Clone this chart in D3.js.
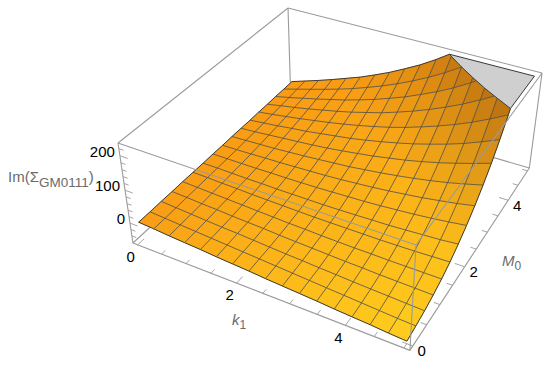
<!DOCTYPE html>
<html>
<head>
<meta charset="utf-8">
<script src="https://cdn.jsdelivr.net/npm/d3@7"></script>
<style>
body { margin: 0; background: #fff; }
text { font-family: "Liberation Sans", Arial, sans-serif; }
</style>
</head>
<body>
<svg width="550" height="366"></svg>
<script>
var kGrid = [0, 0.3125, 0.625, 0.9375, 1.25, 1.5625, 1.875, 2.1875, 2.5, 2.8125, 3.125, 3.4375, 3.75, 4.0625, 4.375, 4.6875, 5];
var mGrid = [0, 0.3125, 0.625, 0.9375, 1.25, 1.5625, 1.875, 2.1875, 2.5, 2.8125, 3.125, 3.4375, 3.75, 4.0625, 4.375, 4.6875, 5];
// Im(Sigma), one row per M0, one column per k1
var zM00 = [-2, -5, -9, -12, -15, -19, -22, -25, -29, -32, -35, -38, -42, -45, -48, -52, -55],
    zM01 = [-2, -5, -8, -11, -14, -17, -20, -23, -26, -29, -32, -35, -38, -41, -44, -47, -49],
    zM02 = [-1, -4, -7, -10, -13, -15, -18, -21, -24, -26, -29, -31, -34, -36, -38, -40, -42],
    zM03 = [-1, -3, -6, -8, -11, -13, -15, -18, -20, -22, -24, -26, -27, -29, -30, -31, -32],
    zM04 = [0, -2, -4, -6, -8, -10, -12, -14, -15, -17, -18, -19, -19, -20, -20, -20, -20],
    zM05 = [0, -1, -3, -4, -6, -7, -8, -9, -10, -10, -10, -10, -10, -9, -8, -6, -4],
    zM06 = [0, 0, -1, -2, -2, -3, -3, -3, -3, -2, -1, 1, 2, 5, 8, 11, 16],
    zM07 = [1, 1, 1, 1, 2, 2, 3, 4, 6, 8, 10, 13, 17, 21, 26, 32, 39],
    zM08 = [1, 2, 3, 5, 6, 8, 10, 12, 15, 19, 23, 28, 34, 40, 48, 56, 66],
    zM09 = [2, 4, 6, 8, 11, 14, 18, 22, 26, 32, 38, 45, 53, 62, 72, 84, 97],
    zM10 = [2, 5, 9, 13, 17, 21, 26, 32, 39, 46, 55, 64, 75, 87, 101, 116, 132],
    zM11 = [2, 7, 12, 18, 23, 30, 37, 44, 53, 63, 74, 86, 100, 115, 132, 152, 173],
    zM12 = [3, 9, 16, 23, 31, 39, 48, 58, 69, 81, 95, 111, 128, 147, 168, 192, 218],
    zM13 = [3, 12, 20, 29, 39, 49, 60, 73, 86, 102, 119, 138, 159, 182, 208, 236, 268],
    zM14 = [4, 14, 25, 36, 48, 60, 74, 89, 106, 124, 145, 167, 192, 220, 251, 285, 323],
    zM15 = [4, 17, 30, 43, 57, 72, 89, 107, 127, 149, 173, 200, 230, 263, 299, 339, 383],
    zM16 = [5, 20, 35, 51, 68, 85, 105, 126, 150, 175, 204, 236, 270, 309, 351, 398, 449];
var zRows = [zM00, zM01, zM02, zM03, zM04, zM05, zM06, zM07, zM08, zM09, zM10, zM11, zM12, zM13, zM14, zM15, zM16];

var kTicks = [0, 0.5, 1, 1.5, 2, 2.5, 3, 3.5, 4, 4.5, 5],
    kLabels = [0, 2, 4],
    zTicks = [-40, -20, 0, 20, 40, 60, 80, 100, 120, 140, 160, 180, 200, 220],
    zLabels = [0, 100, 200];
var zMin = -57, zMax = 230;

var svg = d3.select("svg");

// box coordinates 0..1, with 2% padding around the ranges
var u = d3.scaleLinear().domain([-0.1, 5.1]).range([0, 1]),
    v = d3.scaleLinear().domain([-0.1, 5.1]).range([0, 1]),
    t = d3.scaleLinear().domain([zMin, zMax]).range([0.9808, 0.0192]);

// perspective camera, c runs from the lid of the box (0) to the floor (1)
function camera(a, b, c) {
  var d = 1 - 0.126 * a + 0.2357 * b + 0.0733 * c;
  return [(118 + 245.6 * a + 237.9 * b + 24.7 * c) / d,
          (143 + 71.1 * a - 133.1 * b + 117.8 * c) / d];
}
function project(p) { return camera(u(p[0]), v(p[1]), t(p[2])); }

var line = d3.line(),
    closedLine = d3.line().curve(d3.curveLinearClosed);

var boxColor = "#9a9a9a", meshColor = "#4d4b44", edgeColor = "#3a3a34";

function boxEdge(g, a, b, w) {
  g.append("path").attr("d", line([camera.apply(null, a), camera.apply(null, b)]))
    .attr("fill", "none").attr("stroke", boxColor).attr("stroke-width", w || 1.1);
}

var back = svg.append("g");
[[[0,0,0],[0,1,0]], [[0,1,0],[1,1,0]], [[0,1,0],[0,1,1]], [[0,0,1],[0,1,1]], [[0,1,1],[1,1,1]],
 [[1,1,0],[1,1,1]], [[0,0,0],[0,0,1]], [[0,0,1],[1,0,1]], [[1,0,1],[1,1,1]]].forEach(function(e) {
  boxEdge(back, e[0], e[1]);
});

// ticks and their numbers
kTicks.forEach(function(k) {
  var big = kLabels.indexOf(k) >= 0, a = u(k), b = v(k);
  boxEdge(back, [a, 0, 1], [a, big ? 0.034 : 0.02, 1], 0.9);
  boxEdge(back, [1, b, 1], [big ? 0.966 : 0.98, b, 1], 0.9);
  if (big) {
    var p = camera(a, 0, 1), q = camera(1, b, 1);
    svg.append("text").attr("x", p[0] - 7).attr("y", p[1] + 12).attr("dy", ".35em")
      .attr("text-anchor", "middle").attr("font-size", 15).text(k);
    svg.append("text").attr("x", q[0] + 9).attr("y", q[1] + 5).attr("dy", ".35em")
      .attr("text-anchor", "middle").attr("font-size", 15).text(k);
  }
});
zTicks.forEach(function(z) {
  var big = zLabels.indexOf(z) >= 0, c = t(z);
  boxEdge(back, [0, 0, c], [big ? 0.03 : 0.018, 0, c], 0.9);
  if (big) {
    var p = camera(0, 0, c);
    svg.append("text").attr("x", p[0] - 5).attr("y", p[1] - 4).attr("dy", ".35em")
      .attr("text-anchor", "end").attr("font-size", 15).text(z);
  }
});

// cut a polygon or a polyline of [k, M, z] points at the lid
function clipTop(pts, closed) {
  var out = [], n = pts.length;
  for (var i = 0; i < (closed ? n : n - 1); i++) {
    var a = pts[i], b = pts[(i + 1) % n];
    if (a[2] <= zMax) out.push(a);
    if ((a[2] <= zMax) !== (b[2] <= zMax)) {
      var f = (zMax - a[2]) / (b[2] - a[2]);
      out.push([a[0] + f * (b[0] - a[0]), a[1] + f * (b[1] - a[1]), zMax]);
    }
  }
  if (!closed && pts[n - 1][2] <= zMax) out.push(pts[n - 1]);
  return out;
}

var nearColor = d3.interpolateRgb("#f99b14", "#ffcd1e"),
    steepColor = "#a8620f";

function faceColor(c) {
  var i = c[0], j = c[1],
      dk = (zRows[j][i + 1] + zRows[j + 1][i + 1] - zRows[j][i] - zRows[j + 1][i]) / 2 / 0.3125,
      dm = (zRows[j + 1][i] + zRows[j + 1][i + 1] - zRows[j][i] - zRows[j][i + 1]) / 2 / 0.3125,
      k = (kGrid[i] + kGrid[i + 1]) / 2, m = (mGrid[j] + mGrid[j + 1]) / 2,
      steep = Math.hypot(dk, dm),
      dark = Math.min(1, Math.max(0, (steep - 60) / 140)),
      near = Math.pow(k / 5, 0.8) * Math.pow(1 - m / 5, 0.7);
  return d3.interpolateRgb(nearColor(near), steepColor)(Math.pow(dark, 1.2) * 0.9);
}

var cells = [];
for (var j = 15; j >= 0; j--) for (var i = 0; i < 16; i++) cells.push([i, j]);
svg.append("g").selectAll("path").data(cells).enter().append("path")
  .attr("d", function(c) {
    var i = c[0], j = c[1];
    var poly = clipTop([[kGrid[i], mGrid[j], zRows[j][i]], [kGrid[i + 1], mGrid[j], zRows[j][i + 1]],
      [kGrid[i + 1], mGrid[j + 1], zRows[j + 1][i + 1]], [kGrid[i], mGrid[j + 1], zRows[j + 1][i]]], true);
    return poly.length ? closedLine(poly.map(project)) : null;
  })
  .attr("fill", faceColor)
  .attr("stroke", faceColor)
  .attr("stroke-width", 0.5);

// grey lid where the surface leaves the plot range
var lid = [];
function crossing(i0, j0, i1, j1) {
  var a = zRows[j0][i0], b = zRows[j1][i1];
  if ((a <= zMax) !== (b <= zMax)) {
    var f = (zMax - a) / (b - a);
    lid.push([kGrid[i0] + f * (kGrid[i1] - kGrid[i0]), mGrid[j0] + f * (mGrid[j1] - mGrid[j0]), zMax]);
  }
}
for (var n = 0; n < 17; n++) for (var o = 0; o < 16; o++) {
  crossing(o, n, o + 1, n);
  crossing(n, o, n, o + 1);
}
lid.sort(function(a, b) { return (a[0] - a[1]) - (b[0] - b[1]); });
svg.append("path").attr("d", closedLine(lid.concat([[5, 5, zMax]]).map(project)))
  .attr("fill", "#cfcfcf").attr("stroke", edgeColor).attr("stroke-width", 1);

// mesh lines, one for every grid row and column
var mesh = svg.append("g").attr("fill", "none").attr("stroke", meshColor).attr("stroke-linejoin", "round");
mGrid.forEach(function(m, j) {
  var pts = clipTop(kGrid.map(function(k, i) { return [k, m, zRows[j][i]]; }), false);
  mesh.append("path").attr("d", line(pts.map(project)))
    .attr("stroke-width", j == 0 || j == 16 ? 1 : 0.8)
    .attr("stroke", j == 0 || j == 16 ? edgeColor : meshColor);
});
kGrid.forEach(function(k, i) {
  var pts = clipTop(mGrid.map(function(m, j) { return [k, m, zRows[j][i]]; }), false);
  mesh.append("path").attr("d", line(pts.map(project)))
    .attr("stroke-width", i == 0 || i == 16 ? 1 : 0.8)
    .attr("stroke", i == 0 || i == 16 ? edgeColor : meshColor);
});

// the box edges in front of the surface
var front = svg.append("g");
[[[0,0,0],[1,0,0]], [[1,0,0],[1,0,1]], [[1,0,0],[1,1,0]]].forEach(function(e) { boxEdge(front, e[0], e[1]); });

var labelColor = "#6b6b6b";
var zLabel = svg.append("text").attr("x", 8).attr("y", 182).attr("fill", labelColor).attr("font-size", 15);
zLabel.append("tspan").text("Im(\u03a3");
zLabel.append("tspan").attr("dy", 5).attr("font-size", 13.5).text("GM0111");
zLabel.append("tspan").attr("dy", -5).text(")");
var kLabel = svg.append("text").attr("x", 232).attr("y", 325).attr("fill", labelColor).attr("font-size", 15);
kLabel.append("tspan").attr("font-style", "italic").text("k");
kLabel.append("tspan").attr("dy", 4).attr("font-size", 12).text("1");
var mLabel = svg.append("text").attr("x", 502).attr("y", 266).attr("fill", labelColor).attr("font-size", 15);
mLabel.append("tspan").attr("font-style", "italic").text("M");
mLabel.append("tspan").attr("dy", 4).attr("font-size", 12).text("0");
</script>
</body>
</html>
